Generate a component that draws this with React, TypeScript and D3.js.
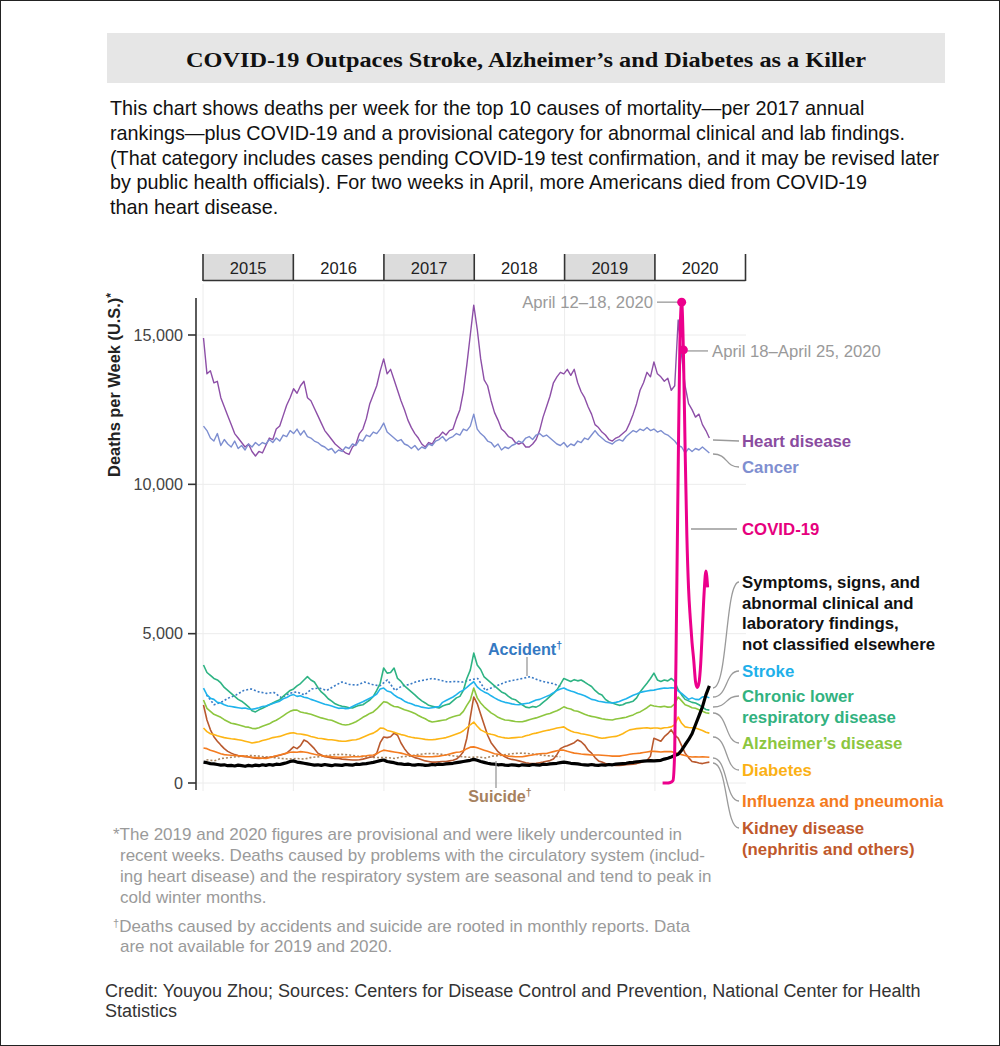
import React from "react";
import * as d3 from "d3";

// ---------- DATA ----------
const years = ["2015", "2016", "2017", "2018", "2019", "2020"];
const shadedYears = ["2015", "2017", "2019"];
const yTicks = [0, 5000, 10000, 15000];

// weekly series sampled every two weeks, starting week ending 2015-01-03
const biweeklyStart = "2015-01-03";
const heartDisease = [
  14900, 13700, 13800, 13400, 13450, 12900, 12600, 12300, 12000, 11700,
  11550, 11400, 11250, 11350, 11100, 10950, 11100, 11050, 11300, 11550,
  11500, 11850, 11950, 12300, 12650, 12900, 13200, 13050, 13300, 13450,
  12900, 12800, 12550, 12300, 12050, 11800, 11650, 11500, 11350, 11250,
  11150, 11050, 11000, 11250, 11350, 11700, 11850, 12200, 12700, 13000,
  13300, 13800, 14200, 13700, 13850, 13500, 13150, 12800, 12500, 12150,
  11900, 11700, 11550, 11350, 11250, 11400, 11350, 11550, 11600, 11750,
  11650, 11800, 11850, 12200, 12500, 13100, 14000, 15000, 16000, 15200,
  14200, 13500, 13300, 12800, 12400, 12150, 11850, 11750, 11600, 11550,
  11400, 11350, 11400, 11250, 11250, 11350, 11500, 11800, 12250, 12600,
  12950, 13400, 13600, 13750, 13700, 13850, 13650, 13850, 13400, 13100,
  12900, 12600, 12350, 12000, 11900, 11750, 11650, 11500, 11450, 11550,
  11600, 11700, 11800, 12050, 12350, 12700, 13150, 13400, 13750, 13600,
  14100, 13700, 13600, 13450, 13550, 13150, 13300, 15500, 14300, 13300,
  12700, 12500, 12250, 12350, 12000, 11800, 11550,
];
const cancer = [
  11950, 11800, 11550, 11450, 11700, 11300, 11500, 11350, 11250, 11450,
  11200, 11300, 11150, 11350, 11250, 11400, 11300, 11400, 11350, 11500,
  11400, 11550, 11450, 11650, 11600, 11800, 11700, 11850, 11650, 11800,
  11600, 11550, 11450, 11400, 11300, 11250, 11150, 11200, 11050, 11150,
  11100, 11250, 11200, 11350, 11300, 11500, 11450, 11650, 11600, 11750,
  11700, 11850, 12050, 11750, 11650, 11550, 11450, 11500, 11350, 11300,
  11200, 11300, 11150, 11250, 11200, 11350, 11300, 11450, 11500, 11600,
  11450, 11550, 11600, 11700, 11650, 11850, 11800, 11950, 12350, 11850,
  11700, 11600, 11450, 11400, 11250, 11350, 11150, 11250, 11200, 11300,
  11350, 11450, 11400, 11550, 11600, 11500, 11650, 11700, 11600, 11650,
  11550, 11450, 11350, 11300, 11400, 11250, 11350, 11300, 11450, 11400,
  11550, 11500, 11650, 11800, 11650, 11550, 11450, 11400, 11350, 11450,
  11500, 11450, 11600, 11700, 11800, 11750, 11850, 11800, 11900, 11800,
  11850, 11750, 11800, 11700, 11650, 11550, 11450, 11300, 11250, 11050,
  11200, 11100, 11200, 11150, 11250, 11150, 11050,
];
const symptoms = [
  700, 680, 650, 640, 620, 600, 610, 580, 590, 570,
  600, 580, 560, 590, 570, 600, 580, 610, 590, 620,
  600, 630, 620, 650, 680, 720, 740, 700, 680, 660,
  640, 620, 600, 610, 590, 620, 600, 580, 610, 600,
  590, 620, 610, 600, 630, 620, 640, 650, 670, 690,
  720, 750, 770, 720, 700, 680, 650, 640, 620, 630,
  610, 600, 620, 610, 590, 600, 620, 610, 630, 620,
  640, 650, 660, 680, 700, 720, 740, 760, 790, 760,
  720, 690, 660, 640, 630, 610, 620, 600, 590, 610,
  600, 580, 610, 600, 590, 620, 610, 600, 630, 620,
  640, 650, 660, 680, 700, 680, 660, 650, 640, 620,
  610, 600, 620, 600, 590, 610, 600, 620, 610, 630,
  640, 650, 660, 680, 690, 710, 720, 730, 740, 750,
  740, 750, 760, 800, 830, 870, 920, 960, 1100, 1280,
  1450, 1650, 1950, 2250, 2550, 2950, 3250,
];
const stroke = [
  3180, 2950, 2840, 2800, 2700, 2680, 2620, 2580, 2560, 2540,
  2520, 2500, 2510, 2480, 2470, 2490, 2520, 2560, 2580, 2620,
  2660, 2700, 2740, 2820, 2860, 2930, 2960, 2900, 2920, 2870,
  2850, 2800, 2760, 2720, 2680, 2640, 2610, 2580, 2540, 2500,
  2510, 2490, 2500, 2560, 2620, 2670, 2720, 2780, 2840, 2900,
  2980, 3150, 3180, 3080, 3050, 2950, 2870, 2820, 2740, 2690,
  2650, 2600, 2580, 2540, 2520, 2500, 2520, 2540, 2560, 2700,
  2760, 2820, 2880, 2960, 3050, 3110, 3200, 3300, 3390, 3220,
  3120, 3050, 3000, 2920, 2850, 2790, 2740, 2700, 2680, 2650,
  2630, 2620, 2640, 2660, 2680, 2730, 2780, 2800, 2850, 2900,
  2950, 3020, 3100, 3150, 3180, 3120, 3080, 3050, 3000, 2960,
  2920, 2860, 2800, 2780, 2740, 2720, 2700, 2690, 2680, 2700,
  2730, 2780, 2820, 2880, 2940, 2980, 3030, 3060, 3080, 3100,
  3110, 3140, 3160, 3180, 3170, 3190, 3180, 3080, 3000, 2900,
  2800, 2850, 2800, 2790, 2880, 2900, 2850,
];
const chronicLowerRespiratory = [
  3950, 3700, 3600, 3500, 3450, 3350, 3200, 3100, 3000, 2900,
  2800, 2740, 2650, 2550, 2420, 2380, 2450, 2500, 2560, 2620,
  2680, 2740, 2790, 2900, 3000, 3100, 3150, 3250, 3330, 3450,
  3560, 3450, 3380, 3200, 3050, 2950, 2820, 2740, 2650, 2600,
  2570, 2550, 2520, 2510, 2560, 2600, 2620, 2700, 2780, 2900,
  3100, 3340, 3850, 3680, 3700, 3850, 3500, 3400, 3250, 3150,
  3050, 2950, 2840, 2750, 2680, 2600, 2570, 2540, 2510, 2580,
  2620, 2650, 2750, 2850, 2900, 3100, 3500, 3780, 4350, 3950,
  3800, 3550, 3450, 3350, 3250, 3150, 3050, 3000, 2900, 2820,
  2790, 2700, 2620, 2540, 2520, 2560, 2540, 2600, 2700, 2790,
  2900, 3000, 3120, 3300, 3500, 3450, 3400, 3460, 3420, 3450,
  3380, 3300, 3230, 3100, 3000, 2950, 2800, 2720, 2680, 2640,
  2600, 2620, 2680, 2700, 2740, 2850, 3050, 3200, 3340, 3500,
  3680, 3450, 3400, 3450, 3420, 3500, 3400, 3120, 2950, 2800,
  2750, 2700, 2680, 2620, 2540, 2460, 2440,
];
const alzheimers = [
  2780, 2500, 2400, 2300, 2250, 2200, 2120, 2060, 2000, 1980,
  1950, 1920, 1880, 1870, 1830, 1820, 1850, 1900, 1940, 1980,
  2050, 2100, 2170, 2250, 2330, 2400, 2440, 2440, 2380, 2350,
  2330, 2300, 2260, 2220, 2180, 2150, 2120, 2100, 2050, 2000,
  1960, 1940, 1960, 2000, 2050, 2120, 2200, 2260, 2330, 2380,
  2480, 2600, 2720, 2700, 2620, 2560, 2550, 2500, 2450, 2420,
  2380, 2330, 2260, 2200, 2150, 2080, 2040, 2060, 2080, 2100,
  2120, 2180, 2220, 2250, 2280, 2400, 2600, 2780, 3180, 2850,
  2680, 2550, 2450, 2350, 2280, 2200, 2150, 2110, 2100, 2080,
  2060, 2050, 2050, 2080, 2120, 2150, 2180, 2220, 2260, 2300,
  2330, 2380, 2420, 2480, 2550, 2500, 2480, 2420, 2400, 2350,
  2300, 2260, 2230, 2210, 2180, 2150, 2130, 2120, 2110, 2140,
  2160, 2180, 2200, 2240, 2280, 2340, 2380, 2450, 2520, 2610,
  2580, 2560, 2550, 2570, 2540, 2550, 2650, 2880, 2750, 2620,
  2580, 2520, 2500, 2450, 2400, 2350, 2330,
];
const diabetes = [
  1840, 1720, 1650, 1620, 1580, 1550, 1520, 1500, 1480, 1470,
  1450, 1430, 1400, 1370, 1340, 1360, 1380, 1420, 1450, 1480,
  1520, 1540, 1560, 1600, 1640, 1670, 1680, 1650, 1640, 1620,
  1600, 1560, 1530, 1500, 1490, 1470, 1450, 1450, 1430, 1410,
  1400, 1400, 1420, 1440, 1450, 1480, 1530, 1580, 1630, 1670,
  1740, 1840, 1830, 1760, 1730, 1700, 1660, 1620, 1600, 1560,
  1530, 1510, 1500, 1480, 1460, 1450, 1450, 1460, 1480, 1500,
  1520, 1560, 1600, 1640, 1680, 1750, 1850, 1950, 2040, 1900,
  1780, 1720, 1660, 1630, 1610, 1560, 1530, 1510, 1500, 1510,
  1520, 1530, 1540, 1580, 1610, 1650, 1670, 1700, 1730, 1760,
  1780, 1810, 1840, 1860, 1880, 1800, 1740, 1700, 1680, 1650,
  1630, 1610, 1580, 1550, 1520, 1500, 1510, 1530, 1550, 1560,
  1600, 1650, 1720, 1780, 1800, 1820, 1830, 1840, 1850, 1830,
  1840, 1840, 1820, 1850, 1860, 1880, 1950, 2210, 2000, 1880,
  1860, 1850, 1840, 1800, 1760, 1700, 1670,
];
const influenzaPneumonia = [
  1170, 1150, 1100, 1060, 1020, 980, 950, 940, 930, 920,
  910, 900, 900, 880, 860, 850, 840, 830, 820, 850,
  880, 910, 940, 970, 1000, 1030, 1040, 1030, 1050, 1040,
  1020, 990, 960, 940, 920, 900, 890, 880, 870, 860,
  860, 870, 870, 880, 880, 880, 900, 910, 930, 940,
  980, 1050, 1100, 1080, 1060, 1040, 1020, 1000, 970, 940,
  920, 910, 900, 890, 880, 880, 880, 890, 900, 920,
  940, 970, 1000, 1030, 1040, 1080, 1150, 1200, 1210, 1180,
  1140, 1100, 1060, 1020, 980, 960, 940, 920, 900, 890,
  880, 880, 880, 900, 920, 940, 960, 980, 990, 990,
  1020, 1050, 1080, 1100, 1100, 1060, 1030, 1000, 990, 970,
  960, 950, 940, 940, 940, 930, 920, 910, 900, 900,
  900, 920, 940, 960, 980, 990, 1000, 1020, 1040, 1060,
  1060, 1050, 1040, 1050, 1050, 1050, 1020, 990, 950, 920,
  890, 870, 880, 870, 880, 870, 860,
];
const kidneyDisease = [
  2610, 2110, 1780, 1550, 1400, 1270, 1150, 1060, 1000, 950,
  920, 900, 880, 870, 850, 830, 820, 830, 850, 860,
  880, 900, 930, 960, 1000, 1100, 1210, 1150, 1250, 1440,
  1380, 1270, 1150, 1000, 940, 880, 860, 840, 820, 820,
  800, 790, 780, 770, 770, 780, 800, 830, 860, 880,
  1000, 1350, 1540, 1520, 1550, 1670, 1600, 1340, 1150, 1000,
  900, 850, 820, 780, 740, 720, 700, 700, 710, 720,
  720, 740, 760, 800, 900, 1050, 1500, 2200, 2880, 2660,
  2300, 1950, 1600, 1350, 1200, 1050, 950, 880, 820, 790,
  770, 740, 710, 680, 660, 650, 660, 680, 700, 730,
  750, 800, 950, 1150, 1210, 1250, 1300, 1350, 1440, 1380,
  1270, 1100, 1000, 850, 740, 700, 650, 620, 600, 590,
  590, 600, 610, 620, 630, 650, 680, 720, 750, 900,
  1500, 1450, 1400, 1550, 1650, 1780, 1600, 1500, 1250, 1000,
  850, 720, 700, 670, 650, 680, 700,
];

// monthly series, January 2015 - December 2018
const monthlyStart = "2015-01-15";
const accident = [
  2950, 2620, 2700, 2850, 2950, 3100, 3150, 3050, 3000, 3030, 2850, 3000,
  3050, 2950, 3150, 3180, 3100, 3250, 3380, 3300, 3280, 3380, 3300, 3250,
  3450, 3100, 3250, 3300, 3400, 3450, 3500, 3450, 3380, 3400, 3380, 3450,
  3500, 3100, 3200, 3300, 3400, 3450, 3500, 3560, 3450, 3380, 3330, 3230,
];
const suicide = [
  780, 740, 820, 850, 880, 900, 920, 900, 870, 850, 820, 800,
  820, 800, 860, 880, 920, 950, 960, 940, 900, 880, 860, 850,
  850, 820, 880, 900, 950, 980, 990, 970, 930, 900, 880, 860,
  870, 840, 900, 920, 960, 990, 1000, 980, 950, 920, 900, 880,
];

// weekly COVID-19 deaths, starting week ending 2020-02-01
const covidStart = "2020-02-01";
const covid = [
  0, 0, 0, 0, 5, 30, 80, 1100, 5500, 10500, 14800, 16100, 14500,
  11200, 8300, 6500, 5500, 4700, 4100, 3400, 3200, 3350, 4000, 5200,
  6400, 7100, 6550,
];
const covidAnnotations = [
  { date: "2020-04-18", label: "April 12–18, 2020", side: "left" },
  { date: "2020-04-25", label: "April 18–April 25, 2020", side: "right" },
];

const descriptionLines = [
  "This chart shows deaths per week for the top 10 causes of mortality—per 2017 annual",
  "rankings—plus COVID-19 and a provisional category for abnormal clinical and lab findings.",
  "(That category includes cases pending COVID-19 test confirmation, and it may be revised later",
  "by public health officials). For two weeks in April, more Americans died from COVID-19",
  "than heart disease.",
];

// ---------- HELPERS ----------
const parse = d3.timeParse("%Y-%m-%d");
type Pt = { date: Date; value: number };
const everyDays = (start: string, step: number, vals: number[]): Pt[] =>
  vals.map((v, i) => ({ date: d3.timeDay.offset(parse(start)!, step * i), value: v }));
const everyMonth = (start: string, vals: number[]): Pt[] =>
  vals.map((v, i) => ({ date: d3.timeMonth.offset(parse(start)!, i), value: v }));

const FONT = "'Liberation Sans', Arial, Helvetica, sans-serif";

export default function App() {
  const x = d3
    .scaleTime()
    .domain([new Date(2015, 0, 1), new Date(2021, 0, 1)])
    .range([203, 745.5]);
  const y = d3.scaleLinear().domain([0, 15000]).range([783, 335]);
  const line = d3
    .line<Pt>()
    .x((d) => x(d.date))
    .y((d) => y(d.value));
  const smooth = d3
    .line<Pt>()
    .curve(d3.curveMonotoneX)
    .x((d) => x(d.date))
    .y((d) => y(d.value));

  const weekly = [
    { name: "heart", data: everyDays(biweeklyStart, 14, heartDisease), color: "#8d4fa7", w: 1.4 },
    { name: "cancer", data: everyDays(biweeklyStart, 14, cancer), color: "#7d8ed0", w: 1.4 },
    { name: "accident", data: everyMonth(monthlyStart, accident), color: "#3a7bc6", w: 1.6, dash: "2,2" },
    { name: "suicide", data: everyMonth(monthlyStart, suicide), color: "#a8845f", w: 1.6, dash: "2,2" },
    { name: "kidney", data: everyDays(biweeklyStart, 14, kidneyDisease), color: "#b9592e", w: 1.6 },
    { name: "flu", data: everyDays(biweeklyStart, 14, influenzaPneumonia), color: "#f47c20", w: 1.6 },
    { name: "diabetes", data: everyDays(biweeklyStart, 14, diabetes), color: "#fdb515", w: 1.6 },
    { name: "alz", data: everyDays(biweeklyStart, 14, alzheimers), color: "#8dc63f", w: 1.6 },
    { name: "clrd", data: everyDays(biweeklyStart, 14, chronicLowerRespiratory), color: "#2eb383", w: 1.6 },
    { name: "stroke", data: everyDays(biweeklyStart, 14, stroke), color: "#1fb3ec", w: 1.6 },
    { name: "symptoms", data: everyDays(biweeklyStart, 14, symptoms), color: "#000000", w: 3.2 },
  ];
  const covidData = everyDays(covidStart, 7, covid);

  const yearStarts = years.map((yr) => new Date(+yr, 0, 1));
  const yearEnds = years.map((yr) => new Date(+yr + 1, 0, 1));

  const labels = [
    { lines: ["Heart disease"], color: "#8a4c9f", y0: 440, y1: 441 },
    { lines: ["Cancer"], color: "#7f8fd0", y0: 454, y1: 467 },
    { lines: ["Symptoms, signs, and", "abnormal clinical and", "laboratory findings,", "not classified elsewhere"], color: "#111111", y0: 688, y1: 582 },
    { lines: ["Stroke"], color: "#1fb0ea", y0: 697, y1: 671 },
    { lines: ["Chronic lower", "respiratory disease"], color: "#32b27f", y0: 707, y1: 696 },
    { lines: ["Alzheimer’s disease"], color: "#8cc63f", y0: 713, y1: 743 },
    { lines: ["Diabetes"], color: "#fbb116", y0: 737, y1: 770 },
    { lines: ["Influenza and pneumonia"], color: "#f47b20", y0: 758, y1: 801 },
    { lines: ["Kidney disease", "(nephritis and others)"], color: "#c0582b", y0: 763, y1: 828 },
  ];

  const footGray = "#9a9a9a";
  const labelSize = 16.8;

  return (
    <svg
      width={1000}
      height={1046}
      style={{ position: "absolute", left: 0, top: 0, display: "block", background: "#fff" }}
      fontFamily={FONT}
    >
      <rect x={0.5} y={0.5} width={999} height={1045} fill="#fff" stroke="#222" strokeWidth={1} />

      {/* title */}
      <rect x={107} y={33} width={838} height={50} fill="#e6e6e6" />
      <text
        x={526}
        y={67}
        textAnchor="middle"
        fontFamily="'Liberation Serif', 'DejaVu Serif', serif"
        fontWeight="bold"
        fontSize={22}
        fill="#111"
        textLength={680}
        lengthAdjust="spacingAndGlyphs"
      >
        COVID-19 Outpaces Stroke, Alzheimer’s and Diabetes as a Killer
      </text>

      {/* description */}
      {descriptionLines.map((t, i) => (
        <text key={i} x={110} y={115 + i * 24.8} fontSize={19.8} fill="#111">
          {t}
        </text>
      ))}

      {/* year header */}
      {years.map((yr, i) => {
        const x0 = x(yearStarts[i]);
        const x1 = x(yearEnds[i]);
        return (
          <g key={yr}>
            {shadedYears.includes(yr) && (
              <rect x={x0} y={254} width={x1 - x0} height={26} fill="#dcdcdc" />
            )}
            <text x={(x0 + x1) / 2} y={274} textAnchor="middle" fontSize={16.5} fill="#222">
              {yr}
            </text>
          </g>
        );
      })}
      {[...yearStarts, yearEnds[yearEnds.length - 1]].map((d, i) => (
        <line key={i} x1={x(d)} x2={x(d)} y1={254} y2={281} stroke="#333" strokeWidth={1.6} />
      ))}
      <line x1={x(yearStarts[0])} x2={x(yearEnds[5])} y1={280.5} y2={280.5} stroke="#333" strokeWidth={1.6} />

      {/* grid */}
      {yearStarts.map((d, i) => (
        <line key={"vg" + i} x1={x(d)} x2={x(d)} y1={284} y2={791} stroke="#ececec" strokeWidth={1} />
      ))}
      {yTicks.map((t) => (
        <line key={"hg" + t} x1={197} x2={746} y1={y(t)} y2={y(t)} stroke="#ececec" strokeWidth={1} />
      ))}

      {/* y axis */}
      <line x1={196} x2={196} y1={298} y2={790} stroke="#333" strokeWidth={1.6} />
      {yTicks.map((t) => (
        <g key={"yt" + t}>
          <line x1={188} x2={196} y1={y(t)} y2={y(t)} stroke="#333" strokeWidth={1.6} />
          <text x={183} y={y(t) + 5.5} textAnchor="end" fontSize={16.2} fill="#444">
            {d3.format(",")(t)}
          </text>
        </g>
      ))}
      <text
        transform="translate(120,385) rotate(-90)"
        textAnchor="middle"
        fontSize={16.4}
        fontWeight="bold"
        fill="#222"
      >
        Deaths per Week (U.S.)
        <tspan fontSize={12} dy={-5}>
          *
        </tspan>
      </text>

      {/* series */}
      {weekly.map((s) => (
        <path
          key={s.name}
          d={line(s.data) || ""}
          fill="none"
          stroke={s.color}
          strokeWidth={s.w}
          strokeDasharray={s.dash}
          strokeLinejoin="round"
        />
      ))}
      <path d={smooth(covidData) || ""} fill="none" stroke="#ec008c" strokeWidth={3} strokeLinejoin="round" />

      {/* covid annotations */}
      {covidAnnotations.map((a) => {
        const pt = covidData.find((d) => +d.date === +parse(a.date)!)!;
        const px = x(pt.date);
        const py = y(pt.value);
        return (
          <g key={a.date}>
            {a.side === "left" ? (
              <>
                <line x1={657} x2={px - 3} y1={py} y2={py} stroke="#999" strokeWidth={1.3} />
                <text x={653} y={py + 6} textAnchor="end" fontSize={16.7} fill="#9a9a9a">
                  {a.label}
                </text>
              </>
            ) : (
              <>
                <line x1={px + 4} x2={708} y1={py + 1} y2={py + 1} stroke="#999" strokeWidth={1.3} />
                <text x={712} y={py + 7} fontSize={16.7} fill="#9a9a9a">
                  {a.label}
                </text>
              </>
            )}
            <circle cx={px} cy={py} r={4.5} fill="#ec008c" />
          </g>
        );
      })}

      {/* COVID label */}
      <line x1={691} x2={737} y1={529} y2={529} stroke="#999" strokeWidth={1.3} />
      <text x={742} y={535} fontSize={labelSize} fontWeight="bold" fill="#e6007e">
        COVID-19
      </text>

      {/* right labels */}
      {labels.map((l, i) => (
        <g key={i}>
          <path
            d={`M713,${l.y0} C728,${l.y0} 725,${l.y1} 739,${l.y1}`}
            fill="none"
            stroke="#9a9a9a"
            strokeWidth={1.3}
          />
          {l.lines.map((t, j) => (
            <text key={j} x={742} y={l.y1 + 6 + j * 20.5} fontSize={labelSize} fontWeight="bold" fill={l.color}>
              {t}
            </text>
          ))}
        </g>
      ))}

      {/* accident & suicide labels */}
      <line x1={527} x2={527} y1={657} y2={676} stroke="#999" strokeWidth={1.3} />
      <text x={525} y={655} textAnchor="middle" fontSize={16.2} fontWeight="bold" fill="#3579c2">
        Accident
        <tspan fontSize={10.5} dy={-6}>
          †
        </tspan>
      </text>
      <line x1={496} x2={496} y1={761} y2={788} stroke="#999" strokeWidth={1.3} />
      <text x={500} y={802} textAnchor="middle" fontSize={16.2} fontWeight="bold" fill="#a6815e">
        Suicide
        <tspan fontSize={10.5} dy={-6}>
          †
        </tspan>
      </text>

      {/* footnotes */}
      <g fontSize={17} fill={footGray}>
        <text x={113} y={840}>
          *The 2019 and 2020 figures are provisional and were likely undercounted in
        </text>
        <text x={120} y={861}>
          recent weeks. Deaths caused by problems with the circulatory system (includ-
        </text>
        <text x={120} y={882}>
          ing heart disease) and the respiratory system are seasonal and tend to peak in
        </text>
        <text x={120} y={903}>
          cold winter months.
        </text>
        <text x={113} y={932}>
          <tspan fontSize={11} dy={-5}>
            †
          </tspan>
          <tspan dy={5}>Deaths caused by accidents and suicide are rooted in monthly reports. Data</tspan>
        </text>
        <text x={120} y={952}>
          are not available for 2019 and 2020.
        </text>
      </g>

      {/* credit */}
      <text x={105} y={997} fontSize={18} fill="#333">
        Credit: Youyou Zhou; Sources: Centers for Disease Control and Prevention, National Center for Health
      </text>
      <text x={105} y={1016.5} fontSize={18} fill="#333">
        Statistics
      </text>
    </svg>
  );
}
